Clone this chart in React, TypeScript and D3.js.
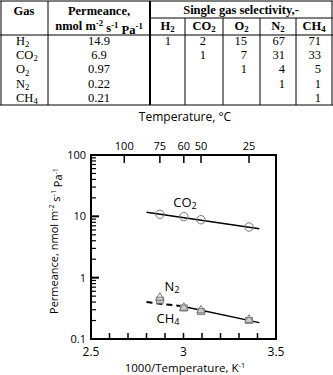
import React from 'react';
import * as d3 from 'd3';

// table data
const gases = [['H', '2'], ['CO', '2'], ['O', '2'], ['N', '2'], ['CH', '4']];
const permeance = ['14.9', '6.9', '0.97', '0.22', '0.21'];
const selectivity: (number | null)[][] = [
  [1, 2, 15, 67, 71],
  [null, 1, 7, 31, 33],
  [null, null, 1, 4, 5],
  [null, null, null, 1, 1],
  [null, null, null, null, 1],
];

// chart data
const tempTicksC = [100, 75, 60, 50, 25];
const measuredTempC = [75, 60, 50, 25];
const co2Perm = [10.8, 9.9, 8.8, 6.7];
const n2Perm = [0.48, 0.33, 0.3, 0.21];
const ch4Perm = [0.43, 0.32, 0.28, 0.2];
const co2Fit: [number, number][] = [[2.8, 11.7], [3.41, 6.3]];
const ch4FitDashed: [number, number][] = [[2.8, 0.4], [3.0, 0.34]];
const ch4FitSolid: [number, number][] = [[3.0, 0.34], [3.41, 0.185]];
const xTicks = [2.5, 3, 3.5];
const yTicks = [0.1, 1, 10, 100];

const toInv = (c: number) => 1000 / (c + 273.15);

const serif = '"Liberation Serif", "Times New Roman", serif';
const sans = '"Open Sans", "DejaVu Sans", sans-serif';

// chemical formula with subscript, only used at end of a text
const Sub = ({ base, sub }: { base: string; sub: string }) => (
  <>
    {base}
    <tspan fontSize="0.7em" dy="0.25em">{sub}</tspan>
  </>
);

const Table = () => {
  const colX = [1, 48, 150, 185, 223, 260, 296, 332];
  const rowY = (i: number) => 45 + i * 14.2;
  const selEnd = [171, 206, 247, 285, 321];
  return (
    <g fontFamily={serif} fontSize={12.5} fill="#000">
      <line x1={0} x2={333} y1={1} y2={1} stroke="#000" strokeWidth={1} />
      <line x1={150} x2={333} y1={18} y2={18} stroke="#000" strokeWidth={1} />
      <line x1={0} x2={333} y1={35} y2={35} stroke="#000" strokeWidth={1} />
      <line x1={0} x2={333} y1={105} y2={105} stroke="#000" strokeWidth={1} />
      {colX.map((x, i) => (
        <line key={i} x1={x} x2={x} y1={i >= 3 && i <= 6 ? 18 : 1} y2={105}
          stroke="#000" strokeWidth={i === 2 ? 2 : 1} />
      ))}
      <g fontWeight="bold">
        <text x={24} y={15} textAnchor="middle">Gas</text>
        <text x={99} y={15} textAnchor="middle">Permeance,</text>
        <text x={99} y={30} textAnchor="middle">
          nmol m<tspan fontSize="0.7em" dy="-0.5em">-2</tspan>
          <tspan dy="0.5em"> s</tspan><tspan fontSize="0.7em" dy="-0.5em">-1</tspan>
          <tspan dy="0.5em"> Pa</tspan><tspan fontSize="0.7em" dy="-0.5em">-1</tspan>
        </text>
        <text x={241} y={14} textAnchor="middle">Single gas selectivity,-</text>
        {gases.map((g, i) => (
          <text key={i} x={(colX[i + 2] + colX[i + 3]) / 2} y={30} textAnchor="middle">
            <Sub base={g[0]} sub={g[1]} />
          </text>
        ))}
      </g>
      {gases.map((g, i) => (
        <g key={i}>
          <text x={16} y={rowY(i)}><Sub base={g[0]} sub={g[1]} /></text>
          <text x={99} y={rowY(i)} textAnchor="middle">{permeance[i]}</text>
          {selectivity[i].map((v, j) =>
            v === null ? null : (
              <text key={j} x={selEnd[j]} y={rowY(i)} textAnchor="end">{v}</text>
            ))}
        </g>
      ))}
    </g>
  );
};

const Chart = () => {
  const left = 91, right = 276, top = 155, bottom = 339;
  const x = d3.scaleLinear().domain([2.5, 3.5]).range([left, right]);
  const y = d3.scaleLog().domain([0.1, 100]).range([bottom, top]);
  const line = d3.line<[number, number]>().x(d => x(d[0])).y(d => y(d[1]));

  const minorY: number[] = [];
  for (let e = -1; e < 2; e++) {
    for (let k = 2; k <= 9; k++) minorY.push(k * Math.pow(10, e));
  }
  const minorX = d3.range(2.6, 3.45, 0.1);
  const xs = measuredTempC.map(toInv);

  const tri = (cx: number, cy: number, r: number) =>
    `M${cx},${cy - r}L${cx + r * 0.95},${cy + r * 0.7}L${cx - r * 0.95},${cy + r * 0.7}Z`;

  return (
    <g fontFamily={sans} fill="#000">
      <text x={185} y={121} textAnchor="middle" fontSize={12}>Temperature, °C</text>
      {tempTicksC.map(t => (
        <g key={t}>
          <line x1={x(toInv(t))} x2={x(toInv(t))} y1={top} y2={top + 8} stroke="#000" strokeWidth={1.5} />
          <text x={x(toInv(t))} y={150} textAnchor="middle" fontSize={11}>{t}</text>
        </g>
      ))}
      {yTicks.map(v => (
        <g key={v}>
          <line x1={left} x2={left + 8} y1={y(v)} y2={y(v)} stroke="#000" strokeWidth={2} />
          <text x={86} y={y(v) + 4} textAnchor="end" fontSize={11}>{v}</text>
        </g>
      ))}
      {minorY.map((v, i) => (
        <line key={i} x1={left} x2={left + 5} y1={y(v)} y2={y(v)} stroke="#000" strokeWidth={1.2} />
      ))}
      {minorX.map((v, i) => (
        <line key={i} x1={x(v)} x2={x(v)} y1={bottom} y2={bottom - 6} stroke="#000" strokeWidth={1.5} />
      ))}
      {xTicks.map(v => (
        <text key={v} x={x(v)} y={356} textAnchor="middle" fontSize={12}>{v}</text>
      ))}
      <rect x={left} y={top} width={right - left} height={bottom - top} fill="none" stroke="#000" strokeWidth={2} />
      <text x={185} y={372} textAnchor="middle" fontSize={11.5}>
        1000/Temperature, K<tspan fontSize="0.65em" dy="-0.5em">-1</tspan>
      </text>
      <text transform="translate(58,241) rotate(-90)" textAnchor="middle" fontSize={11}>
        Permeance, nmol m<tspan fontSize="0.65em" dy="-0.5em">-2</tspan>
        <tspan dy="0.5em"> s</tspan><tspan fontSize="0.65em" dy="-0.5em">-1</tspan>
        <tspan dy="0.5em"> Pa</tspan><tspan fontSize="0.65em" dy="-0.5em">-1</tspan>
      </text>
      <path d={line(co2Fit) || ''} fill="none" stroke="#000" strokeWidth={1.5} />
      <path d={line(ch4FitDashed) || ''} fill="none" stroke="#000" strokeWidth={2} strokeDasharray="6,4" />
      <path d={line(ch4FitSolid) || ''} fill="none" stroke="#000" strokeWidth={1.5} />
      {xs.map((v, i) => (
        <circle key={'c' + i} cx={x(v)} cy={y(co2Perm[i])} r={4.2} fill="none" stroke="#777" strokeWidth={1} />
      ))}
      {xs.map((v, i) => (
        <rect key={'s' + i} x={x(v) - 3.5} y={y(ch4Perm[i]) - 3} width={7} height={6}
          fill="#ccc" stroke="#888" strokeWidth={1} />
      ))}
      {xs.map((v, i) => (
        <path key={'t' + i} d={tri(x(v), y(n2Perm[i]), 4.5)} fill="none" stroke="#777" strokeWidth={1} />
      ))}
      <text x={185} y={207} textAnchor="middle" fontSize={13}><Sub base="CO" sub="2" /></text>
      <text x={172} y={291} textAnchor="middle" fontSize={13}><Sub base="N" sub="2" /></text>
      <text x={168} y={323} textAnchor="middle" fontSize={13}><Sub base="CH" sub="4" /></text>
    </g>
  );
};

const App = () => (
  <div style={{ position: 'absolute', left: 0, top: 0 }}>
    <svg width={333} height={375} style={{ display: 'block', background: '#fff' }}>
      <Table />
      <Chart />
    </svg>
  </div>
);

export default App;
